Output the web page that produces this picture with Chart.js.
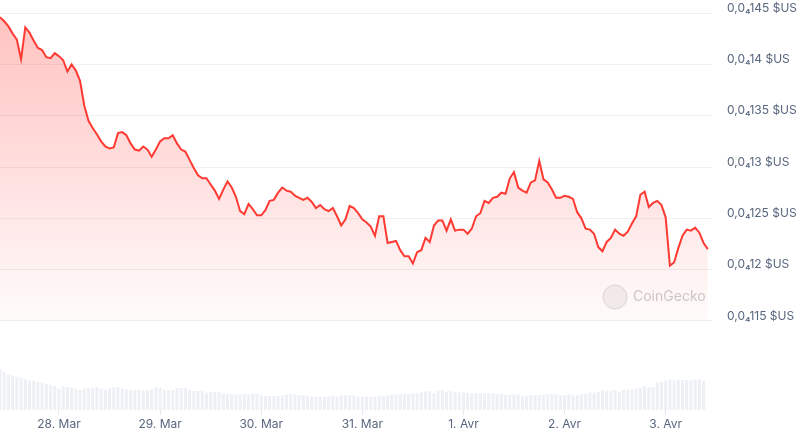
<!DOCTYPE html>
<html>
<head>
<meta charset="utf-8">
<script src="https://cdn.jsdelivr.net/npm/chart.js@4"></script>
<style>
html, body { margin: 0; padding: 0; background: #fff; }
</style>
</head>
<body>
<canvas id="myChart" width="799" height="435"></canvas>
<script>
// price in units of 0.000001 $US, one point per hour starting 27 Mar 10:00
var prices = [
    14.46, 14.42, 14.37, 14.30, 14.24, 14.05, 14.36, 14.31, 14.23, 14.16,
    14.14, 14.07, 14.06, 14.11, 14.08, 14.04, 13.93, 14.00, 13.94, 13.84,
    13.60, 13.45, 13.38, 13.32, 13.25, 13.20, 13.18, 13.19, 13.33, 13.34,
    13.31, 13.23, 13.17, 13.16, 13.20, 13.17, 13.10, 13.17, 13.25, 13.28,
    13.28, 13.31, 13.23, 13.17, 13.15, 13.07, 12.99, 12.92, 12.89, 12.89,
    12.83, 12.77, 12.69, 12.78, 12.86, 12.80, 12.71, 12.57, 12.54, 12.64,
    12.59, 12.53, 12.53, 12.58, 12.67, 12.68, 12.75, 12.80, 12.77, 12.76,
    12.72, 12.70, 12.68, 12.70, 12.66, 12.60, 12.63, 12.59, 12.57, 12.60,
    12.52, 12.43, 12.49, 12.62, 12.60, 12.55, 12.49, 12.46, 12.42, 12.33,
    12.52, 12.52, 12.26, 12.27, 12.28, 12.19, 12.13, 12.13, 12.06, 12.17,
    12.19, 12.31, 12.27, 12.43, 12.48, 12.48, 12.38, 12.49, 12.38, 12.39,
    12.39, 12.35, 12.40, 12.52, 12.55, 12.67, 12.65, 12.70, 12.71, 12.75,
    12.74, 12.89, 12.95, 12.80, 12.77, 12.75, 12.85, 12.87, 13.06, 12.88,
    12.85, 12.78, 12.70, 12.70, 12.72, 12.71, 12.69, 12.56, 12.50, 12.40,
    12.39, 12.35, 12.22, 12.18, 12.27, 12.31, 12.39, 12.35, 12.33, 12.37,
    12.45, 12.52, 12.73, 12.76, 12.61, 12.65, 12.67, 12.63, 12.51, 12.04,
    12.07, 12.21, 12.33, 12.39, 12.38, 12.41, 12.36, 12.26, 12.20
];

// hourly volume (arbitrary units)
var volumes = [
    122, 114, 105, 103, 100, 97, 92, 88, 87, 84,
    82, 78, 75, 72, 64, 72, 69, 67, 62, 60,
    64, 66, 67, 68, 63, 61, 65, 67, 69, 64,
    62, 60, 60, 60, 60, 60, 62, 69, 66, 60,
    60, 60, 66, 66, 66, 60, 57, 57, 57, 52,
    54, 54, 54, 50, 48, 48, 46, 46, 48, 46,
    49, 49, 44, 42, 42, 42, 42, 44, 46, 48,
    46, 44, 44, 42, 40, 40, 40, 40, 40, 42,
    40, 44, 44, 44, 44, 40, 40, 40, 40, 40,
    44, 42, 44, 46, 46, 48,
    48, 48, 50, 50, 53, 56, 56, 50, 59, 59,
    55, 57, 54, 53, 53, 51, 50, 50, 50, 50,
    50, 50, 48, 48, 46, 46, 48, 46, 44, 42,
    45, 45, 45, 46, 47, 48, 47, 44, 44, 47,
    44, 45, 48, 49, 52, 52, 54, 60, 57, 57,
    60, 55, 60, 62, 62, 64, 68, 72, 68, 68,
    82, 84, 88, 92, 88, 90, 90, 90, 90, 92,
    92, 87
];

var xTickHours = [14, 38, 62, 86, 110, 134, 158];
var xTickLabels = ['28. Mar', '29. Mar', '30. Mar', '31. Mar', '1. Avr', '2. Avr', '3. Avr'];

var yTicks = [11.5, 12, 12.5, 13, 13.5, 14, 14.5];
var yTickLabels = ['0,0\u2084115 $US', '0,0\u208412 $US', '0,0\u2084125 $US', '0,0\u208413 $US',
                   '0,0\u2084135 $US', '0,0\u208414 $US', '0,0\u2084145 $US'];

var red = '#ff3a33';
var textColor = '#58667e';
var fontFamily = 'Inter, "Noto Sans", sans-serif';

window.onload = function() {
    var pricePoints = [];
    for (var i = 0; i < prices.length; i++) {
        pricePoints.push({x: i, y: prices[i]});
    }
    var volumePoints = [];
    for (var j = 0; j < volumes.length; j++) {
        volumePoints.push({x: j, y: volumes[j]});
    }
    buildChart(pricePoints, volumePoints);
};

var watermark = {
    id: 'watermark',
    beforeDatasetsDraw: function(chart) {
        var c = chart.ctx;
        c.save();
        c.beginPath();
        c.arc(615, 297, 12, 0, Math.PI * 2);
        c.fillStyle = 'rgba(215,215,215,0.35)';
        c.fill();
        c.strokeStyle = 'rgba(200,200,200,0.6)';
        c.lineWidth = 1;
        c.stroke();
        c.fillStyle = 'rgba(190,190,190,0.8)';
        c.font = '14px ' + fontFamily;
        c.textBaseline = 'middle';
        c.fillText('CoinGecko', 633, 297);
        c.restore();
    }
};

// no extra label padding around the plot area
function noPadding(axis) {
    axis.paddingLeft = 0;
    axis.paddingRight = 0;
    axis.paddingTop = 0;
    axis.paddingBottom = 0;
}

function buildChart(pricePoints, volumePoints) {
    var ctx = document.getElementById('myChart');
    var myChart = new Chart(ctx, {
        data: {
            datasets: [{
                type: 'line',
                label: 'Prix',
                data: pricePoints,
                yAxisID: 'y',
                borderColor: red,
                borderWidth: 2,
                pointRadius: 0,
                tension: 0,
                fill: {value: 11.5},
                backgroundColor: function(context) {
                    var area = context.chart.chartArea;
                    if (!area) return 'rgba(255,58,51,0.1)';
                    var g = context.chart.ctx.createLinearGradient(0, area.top, 0, 321);
                    g.addColorStop(0, 'rgba(255,58,51,0.32)');
                    g.addColorStop(1, 'rgba(255,58,51,0.02)');
                    return g;
                },
                order: 1
            }, {
                type: 'bar',
                label: 'Volume',
                data: volumePoints,
                yAxisID: 'y1',
                backgroundColor: '#edf0f4',
                barPercentage: 0.72,
                categoryPercentage: 1,
                order: 2
            }]
        },
        options: {
            responsive: false,
            animation: false,
            layout: { padding: 0 },
            plugins: {
                legend: { display: false },
                tooltip: { enabled: false }
            },
            scales: {
                x: {
                    type: 'linear',
                    offset: false,
                    min: 0,
                    max: 169,
                    afterBuildTicks: function(axis) {
                        axis.ticks = xTickHours.map(function(h) { return {value: h}; });
                    },
                    afterFit: function(axis) { axis.height = 25; noPadding(axis); },
                    ticks: {
                        autoSkip: false,
                        maxRotation: 0,
                        padding: 2,
                        color: textColor,
                        font: { family: fontFamily, size: 12 },
                        callback: function(value) {
                            return xTickLabels[xTickHours.indexOf(value)];
                        }
                    },
                    grid: {
                        offset: false,
                        drawOnChartArea: false,
                        drawTicks: true,
                        tickLength: 5,
                        color: '#e3e6ea'
                    },
                    border: { display: false }
                },
                y: {
                    position: 'right',
                    min: 10.633,
                    max: 14.627,
                    afterBuildTicks: function(axis) {
                        axis.ticks = yTicks.map(function(v) { return {value: v}; });
                    },
                    afterFit: function(axis) { axis.width = 87; noPadding(axis); },
                    ticks: {
                        padding: 15,
                        labelOffset: -5,
                        color: textColor,
                        font: { family: fontFamily, size: 12 },
                        callback: function(value) {
                            return yTickLabels[yTicks.indexOf(value)];
                        }
                    },
                    grid: {
                        drawTicks: false,
                        color: '#eef0f3'
                    },
                    border: { display: false }
                },
                y1: {
                    display: false,
                    min: 0,
                    max: 1230
                }
            }
        },
        plugins: [watermark]
    });
}
</script>
</body>
</html>
